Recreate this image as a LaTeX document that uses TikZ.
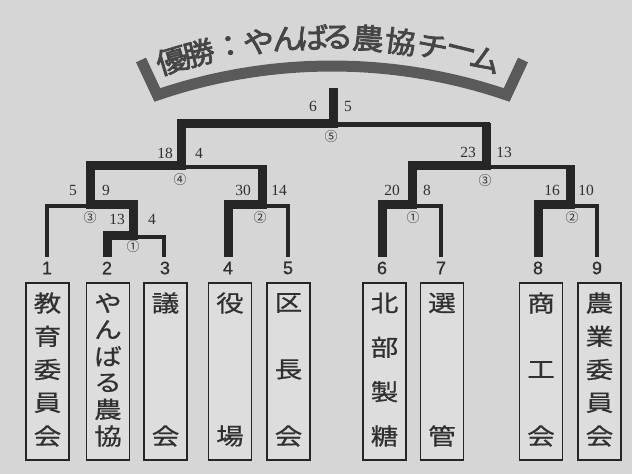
\documentclass[tikz,border=0pt]{standalone}
\usepackage{fontspec}
\setmainfont{Liberation Serif}
\newfontfamily\cjk{Noto Sans CJK JP}
\newfontfamily\cjkbox[FakeStretch=1.2,FakeBold=0.6]{Noto Sans CJK JP}
\newfontfamily\cjktitle[FakeBold=2.5,FakeStretch=1.08]{Noto Sans CJK JP}
\newfontfamily\numsans[FakeBold=1]{Liberation Sans}
\definecolor{bg}{HTML}{D6D6D6}
\definecolor{boxbg}{HTML}{DDDDDD}
\definecolor{ln}{HTML}{262626}
\definecolor{txt}{HTML}{303030}
\definecolor{band}{HTML}{5A5A5A}
\definecolor{ttl}{HTML}{454545}
\newcommand{\teamcol}[4]{%
  \node[teambox] (#1) at (#2,371.5) {};
  \foreach \c [count=\k] in {#4} {\node[boxch] (#1-\k) at (#2,{303+(\k-1)*133/(#3-1)}) {\c};}
}
\begin{document}
\begin{tikzpicture}[x=1pt,y=-1pt,
  thinln/.style={line width=4.5pt, draw=ln, line join=miter},
  thickln/.style={line width=9pt, draw=ln, line join=miter},
  score/.style={font=\fontsize{15.5}{15.5}\selectfont, text=txt, inner sep=0pt},
  circ/.style={font=\cjk\fontsize{13}{13}\selectfont, text=txt, inner sep=0pt},
  teamnum/.style={font=\numsans\fontsize{18}{18}\selectfont, text=txt, inner sep=0pt},
  teambox/.style={draw=ln, line width=1.5pt, fill=boxbg, minimum width=43pt, minimum height=177pt, inner sep=0pt},
  boxch/.style={font=\cjkbox\fontsize{23}{23}\selectfont, text=txt, inner sep=0pt},
  titlech/.style={font=\cjktitle\fontsize{29}{29}\selectfont, text=ttl, inner sep=0pt},
  arcband/.style={line width=11pt, draw=band, line join=miter}
]
\fill[bg] (0,0) rectangle (632,474);
\useasboundingbox (0,0) rectangle (632,474);

% title arc
\draw[arcband] (141,60) -- plot[domain=-18.8:18.8,samples=60] ({332+542*sin(\x)},{608-542*cos(\x)}) -- (523,60);
\begin{scope}[shift={(330,584)}]
\foreach \c/\t [count=\k] in {優/-16.8,勝/-13.9,：/-10.6,や/-7.5,ん/-4.5,ば/-1.8,る/0.8,農/4.0,協/7.4,チ/10.8,ー/13.8,ム/16.5}
  \node[titlech, rotate=-\t] (tt\k) at ({547*sin(\t)},{-547*cos(\t)}) {\c};
\end{scope}

% coordinates
\coordinate (t1) at (47,257);
\coordinate (t2) at (107,257);
\coordinate (t3) at (164,257);
\coordinate (t4) at (228,257);
\coordinate (t5) at (288,257);
\coordinate (t6) at (382,257);
\coordinate (t7) at (441,257);
\coordinate (t8) at (538,257);
\coordinate (t9) at (597,257);
\coordinate (a1) at (133,235);
\coordinate (a3) at (90,204);
\coordinate (a2) at (262,204);
\coordinate (a2t) at (262,165);
\coordinate (a4) at (181,165);
\coordinate (b1) at (412,204);
\coordinate (b2) at (570,204);
\coordinate (b2t) at (570,165);
\coordinate (b3) at (486,165);
\coordinate (b3t) at (486,123);
\coordinate (f) at (333,123);
\coordinate (top) at (333,88);

% thin (losing) lines
\draw[thinln] (t1) |- ([yshift=-2pt]a3);
\draw[thinln] (t3) |- ([yshift=-2pt]a1);
\draw[thinln] (t5) |- ([yshift=-2pt]a2);
\draw[thinln] (t7) |- ([yshift=-2pt]b1);
\draw[thinln] (t9) |- ([yshift=-2pt]b2);
\draw[thinln] ([yshift=-2pt,xshift=4pt]a2t) -- ([yshift=-2pt]a4);
\draw[thinln] ([yshift=-2pt,xshift=4pt]b2t) -- ([yshift=-2pt]b3);
\draw[thinln] ([yshift=-1.5pt,xshift=4pt]b3t) -- ([yshift=-1.5pt]f);

% thick (winning) lines
\draw[thickln] (t2) |- (a1) |- (a3) |- (a4) |- (f) -- (top);
\draw[thickln] (t4) |- (a2) -- (a2t);
\draw[thickln] (t6) |- (b1) |- (b3) -- (b3t);
\draw[thickln] (t8) |- (b2) -- (b2t);

% scores
\node[score] (s1) at (313,106) {6};
\node[score] (s2) at (348,106) {5};
\node[circ] (c5) at (331,137) {⑤};
\node[score] (s3) at (165,153) {18};
\node[score] (s4) at (199,153) {4};
\node[circ] (c4l) at (180,180) {④};
\node[score] (s5) at (73,190) {5};
\node[score] (s6) at (106,190) {9};
\node[circ] (c3l) at (90,218) {③};
\node[score] (s7) at (117,219) {13};
\node[score] (s8) at (152,219) {4};
\node[circ] (c1l) at (133,247) {①};
\node[score] (s9) at (243,190) {30};
\node[score] (s10) at (279,190) {14};
\node[circ] (c2l) at (260,218) {②};
\node[score] (s11) at (468,152) {23};
\node[score] (s12) at (504,152) {13};
\node[circ] (c3r) at (485,181) {③};
\node[score] (s13) at (392,190) {20};
\node[score] (s14) at (427,190) {8};
\node[circ] (c1r) at (413,218) {①};
\node[score] (s15) at (552,190) {16};
\node[score] (s16) at (586,190) {10};
\node[circ] (c2r) at (572,218) {②};

% team numbers
\node[teamnum] (n1) at (47,268) {1};
\node[teamnum] (n2) at (107,268) {2};
\node[teamnum] (n3) at (165,268) {3};
\node[teamnum] (n4) at (228,268) {4};
\node[teamnum] (n5) at (288,268) {5};
\node[teamnum] (n6) at (382,268) {6};
\node[teamnum] (n7) at (441,268) {7};
\node[teamnum] (n8) at (538,268) {8};
\node[teamnum] (n9) at (597,268) {9};

% team boxes
\teamcol{bx1}{47.5}{5}{教,育,委,員,会}
\teamcol{bx2}{108}{6}{や,ん,ば,る,農,協}
\teamcol{bx3}{165.5}{2}{議,会}
\teamcol{bx4}{230}{2}{役,場}
\teamcol{bx5}{288.5}{3}{区,長,会}
\teamcol{bx6}{384.5}{4}{北,部,製,糖}
\teamcol{bx7}{442}{2}{選,管}
\teamcol{bx8}{541}{3}{商,工,会}
\teamcol{bx9}{599.5}{5}{農,業,委,員,会}
\end{tikzpicture}
\end{document}
